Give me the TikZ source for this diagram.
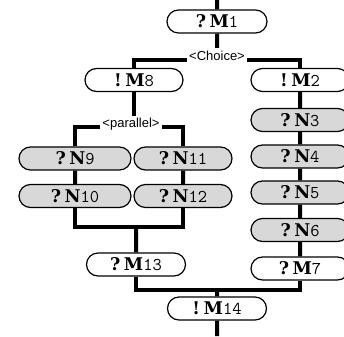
\documentclass[tikz,border=0pt]{standalone}
\usepackage{fontspec}
\usetikzlibrary{shapes.misc}
\newfontfamily\labfont{Liberation Sans}
\newfontfamily\msgfont{DejaVu Serif}
\definecolor{msggray}{RGB}{216,216,216}
\pgfdeclarelayer{back}
\pgfsetlayers{back,main}
\tikzstyle{msg}=[rounded rectangle,draw=black,line width=1.2pt,fill=white,minimum height=23pt,minimum width=98pt,inner sep=0pt]
\tikzstyle{rmsg}=[msg,fill=msggray]
\tikzstyle{wire}=[line width=4pt]
\tikzstyle{lab}=[fill=white,inner sep=2.5pt,font=\labfont\fontsize{13}{13}\selectfont]
\newcommand\mtxt[3]{{\msgfont\bfseries\fontsize{17.5}{17.5}\selectfont #1\kern3.5pt#2}{\ttfamily\fontsize{18}{18}\selectfont #3}}

\begin{document}
\begin{tikzpicture}[x=1pt,y=-1pt]

      \useasboundingbox (0,0) rectangle (344,336);

      \coordinate (in) at (217,0);
      \coordinate (out) at (217,336);
      \coordinate (ch) at (217,60);
      \coordinate (pb) at (134,127);
      \coordinate (pj) at (134,227);
      \coordinate (mj) at (217,290);

      % choice branch heads
      \node (M1) at (217,21.5) [msg,minimum width=100pt] {\mtxt{?}{M}{1}};
      \node (M8) at (134,80) [msg] {\mtxt{!}{M}{8}};
      \node (M2) at (300,80) [msg] {\mtxt{!}{M}{2}};

      % right branch
      \node (N3) at (300,120) [rmsg] {\mtxt{?}{N}{3}};
      \node (N4) at (300,156.5) [rmsg] {\mtxt{?}{N}{4}};
      \node (N5) at (300,192.5) [rmsg] {\mtxt{?}{N}{5}};
      \node (N6) at (300,230) [rmsg] {\mtxt{?}{N}{6}};
      \node (M7) at (300,268.5) [msg] {\mtxt{?}{M}{7}};

      % parallel block
      \node (N9) at (75,158.5) [rmsg,minimum width=112pt] {\mtxt{?}{N}{9}};
      \node (N10) at (75,196) [rmsg,minimum width=112pt] {\mtxt{?}{N}{10}};
      \node (N11) at (183,158.5) [rmsg] {\mtxt{?}{N}{11}};
      \node (N12) at (183,196) [rmsg] {\mtxt{?}{N}{12}};

      \node (M13) at (136,264.5) [msg,minimum width=99pt] {\mtxt{?}{M}{13}};
      \node (M14) at (217,308.5) [msg,minimum width=99pt] {\mtxt{!}{M}{14}};

      \begin{pgfonlayer}{back}
        \draw[wire] (in) -- (M1) -- (ch);
        \draw[wire] (M8) |- (ch) -| (M2);
        \draw[wire] (M2) -- (N3) -- (N4) -- (N5) -- (N6) -- (M7);
        \draw[wire] (M8) -- (pb);
        \draw[wire] (N9) |- (pb) -| (N11);
        \draw[wire] (N9) -- (N10);
        \draw[wire] (N11) -- (N12);
        \draw[wire] (N10) |- (pj) -| (N12);
        \draw[wire] (pj) -- (pj -| M13) -- (M13);
        \draw[wire] (M13) |- (mj) -| (M7);
        \draw[wire] (mj) -- (M14) -- (out);
      \end{pgfonlayer}

      \node (chl) at (217,55.5) [lab] {<Choice>};
      \node (pal) at (131,124.5) [lab] {<parallel>};

\end{tikzpicture}
\end{document}
